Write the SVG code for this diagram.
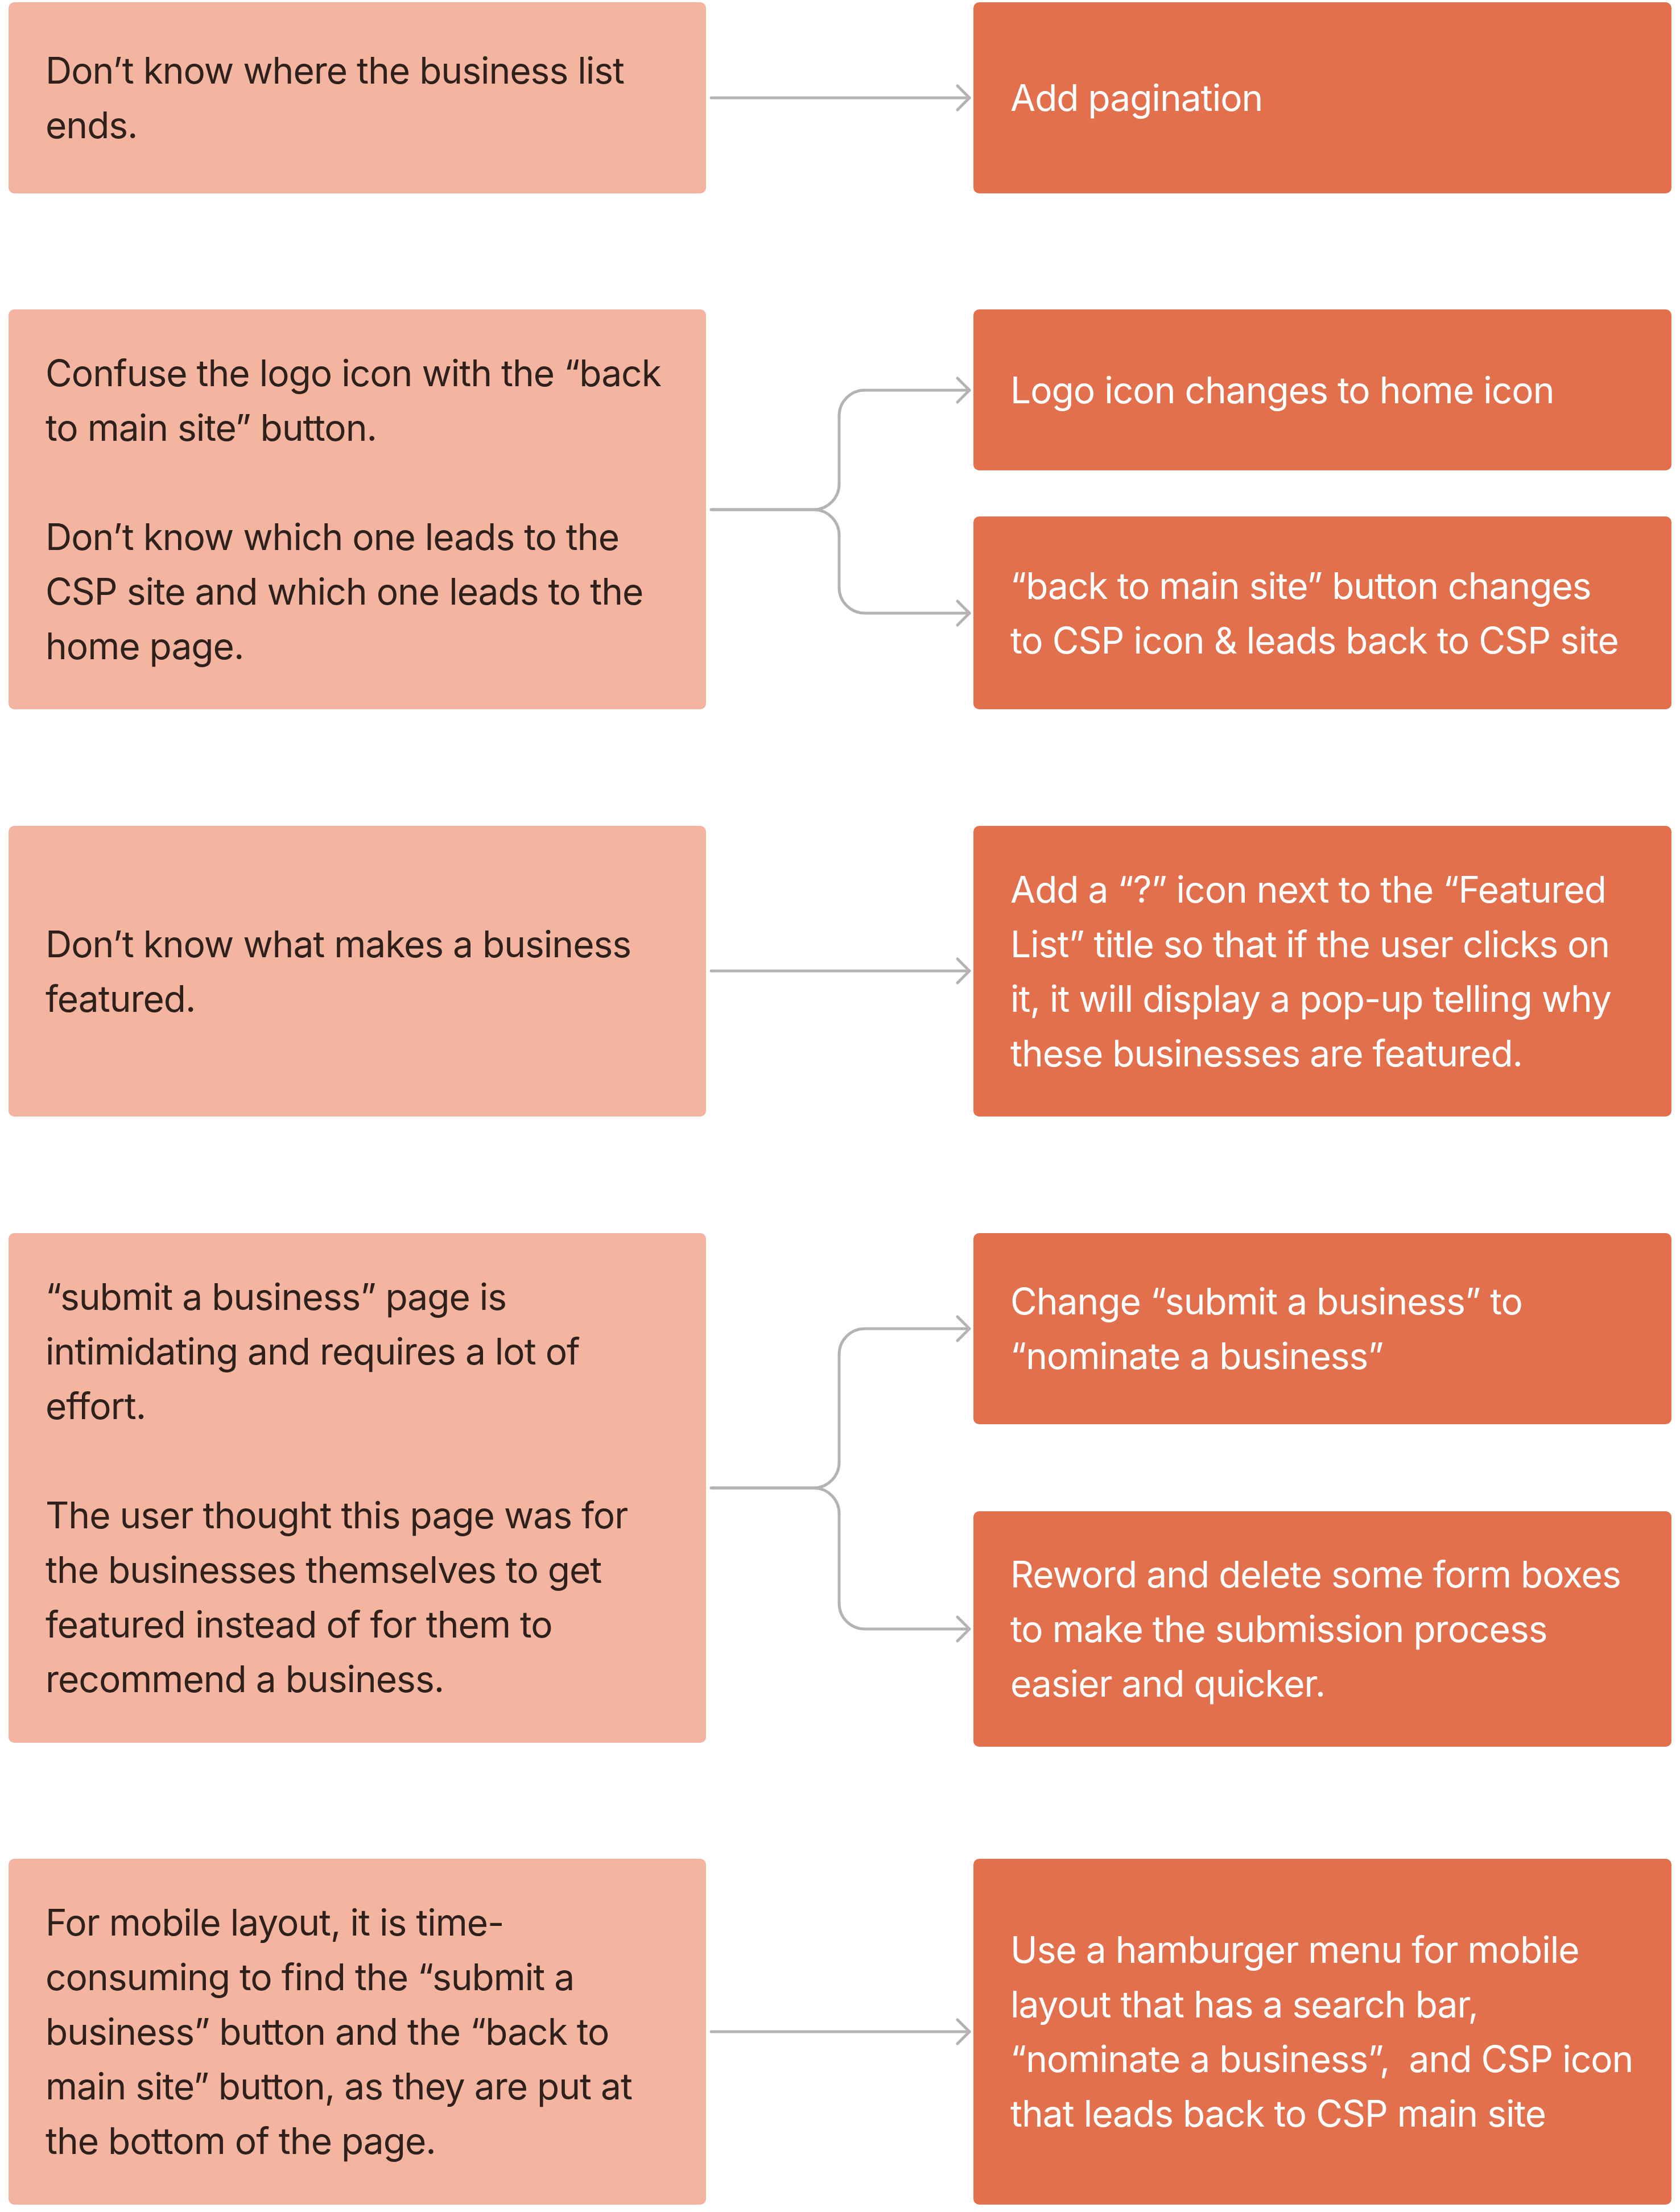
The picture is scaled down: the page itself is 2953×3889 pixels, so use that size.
<svg xmlns="http://www.w3.org/2000/svg" width="2953" height="3889" viewBox="0 0 2953 3889">
  <style>
    .l { fill: #F3B4A0; }
    .r { fill: #E2704C; }
    .tl { font-family: Inter, "Noto Sans", "Liberation Sans", sans-serif; font-size: 64px; letter-spacing: -1px; fill: #2E201B; white-space: pre; }
    .tr { font-family: Inter, "Noto Sans", "Liberation Sans", sans-serif; font-size: 64px; letter-spacing: -1px; fill: #FFFFFF; white-space: pre; }
    .c { fill: none; stroke: #B3B3B3; stroke-width: 5; stroke-linecap: round; stroke-linejoin: round; }
  </style>
  <defs>
    <marker id="chev" viewBox="0 0 30 50" refX="27" refY="25" markerWidth="30" markerHeight="50" markerUnits="userSpaceOnUse" orient="auto" overflow="visible">
      <path d="M6 4 L27 25 L6 46" fill="none" stroke="#B3B3B3" stroke-width="5" stroke-linecap="round" stroke-linejoin="round"/>
    </marker>
  </defs>
  <rect width="2953" height="3889" fill="#FFFFFF"/>

  <g id="connectors">
    <path class="c" d="M1250 172 H1704" marker-end="url(#chev)"/>
    <path class="c" d="M1250 896 H1430 A45 45 0 0 0 1475 851 V731 A45 45 0 0 1 1520 686 H1704" marker-end="url(#chev)"/>
    <path class="c" d="M1250 896 H1430 A45 45 0 0 1 1475 941 V1033 A45 45 0 0 0 1520 1078 H1704" marker-end="url(#chev)"/>
    <path class="c" d="M1250 1707 H1704" marker-end="url(#chev)"/>
    <path class="c" d="M1250 2616 H1430 A45 45 0 0 0 1475 2571 V2381 A45 45 0 0 1 1520 2336 H1704" marker-end="url(#chev)"/>
    <path class="c" d="M1250 2616 H1430 A45 45 0 0 1 1475 2661 V2819 A45 45 0 0 0 1520 2864 H1704" marker-end="url(#chev)"/>
    <path class="c" d="M1250 3572 H1704" marker-end="url(#chev)"/>
  </g>

  <g id="problem1">
    <rect class="l" x="15" y="4" width="1226" height="336" rx="10"/>
    <text class="tl" x="80" y="147">Don’t know where the business list<tspan x="80" dy="96">ends.</tspan></text>
  </g>
  <g id="solution1">
    <rect class="r" x="1711" y="4" width="1227" height="336" rx="10"/>
    <text class="tr" x="1776" y="195">Add pagination</text>
  </g>

  <g id="problem2">
    <rect class="l" x="15" y="544" width="1226" height="703" rx="10"/>
    <text class="tl" x="80" y="679">Confuse the logo icon with the “back<tspan x="80" dy="96">to main site” button.</tspan><tspan x="80" dy="192">Don’t know which one leads to the</tspan><tspan x="80" dy="96">CSP site and which one leads to the</tspan><tspan x="80" dy="96">home page.</tspan></text>
  </g>
  <g id="solution2a">
    <rect class="r" x="1711" y="544" width="1227" height="283" rx="10"/>
    <text class="tr" x="1776" y="709">Logo icon changes to home icon</text>
  </g>
  <g id="solution2b">
    <rect class="r" x="1711" y="908" width="1227" height="339" rx="10"/>
    <text class="tr" x="1776" y="1053">“back to main site” button changes<tspan x="1776" dy="96">to CSP icon &amp; leads back to CSP site</tspan></text>
  </g>

  <g id="problem3">
    <rect class="l" x="15" y="1452" width="1226" height="511" rx="10"/>
    <text class="tl" x="80" y="1683">Don’t know what makes a business<tspan x="80" dy="96">featured.</tspan></text>
  </g>
  <g id="solution3">
    <rect class="r" x="1711" y="1452" width="1227" height="511" rx="10"/>
    <text class="tr" x="1776" y="1587">Add a “?” icon next to the “Featured<tspan x="1776" dy="96">List” title so that if the user clicks on</tspan><tspan x="1776" dy="96">it, it will display a pop-up telling why</tspan><tspan x="1776" dy="96">these businesses are featured.</tspan></text>
  </g>

  <g id="problem4">
    <rect class="l" x="15" y="2168" width="1226" height="896" rx="10"/>
    <text class="tl" x="80" y="2303">“submit a business” page is<tspan x="80" dy="96">intimidating and requires a lot of</tspan><tspan x="80" dy="96">effort.</tspan><tspan x="80" dy="192">The user thought this page was for</tspan><tspan x="80" dy="96">the businesses themselves to get</tspan><tspan x="80" dy="96">featured instead of for them to</tspan><tspan x="80" dy="96">recommend a business.</tspan></text>
  </g>
  <g id="solution4a">
    <rect class="r" x="1711" y="2168" width="1227" height="336" rx="10"/>
    <text class="tr" x="1776" y="2311">Change “submit a business” to<tspan x="1776" dy="96">“nominate a business”</tspan></text>
  </g>
  <g id="solution4b">
    <rect class="r" x="1711" y="2657" width="1227" height="414" rx="10"/>
    <text class="tr" x="1776" y="2791">Reword and delete some form boxes<tspan x="1776" dy="96">to make the submission process</tspan><tspan x="1776" dy="96">easier and quicker.</tspan></text>
  </g>

  <g id="problem5">
    <rect class="l" x="15" y="3268" width="1226" height="608" rx="10"/>
    <text class="tl" x="80" y="3403">For mobile layout, it is time-<tspan x="80" dy="96">consuming to find the “submit a</tspan><tspan x="80" dy="96">business” button and the “back to</tspan><tspan x="80" dy="96">main site” button, as they are put at</tspan><tspan x="80" dy="96">the bottom of the page.</tspan></text>
  </g>
  <g id="solution5">
    <rect class="r" x="1711" y="3268" width="1227" height="608" rx="10"/>
    <text class="tr" x="1776" y="3451">Use a hamburger menu for mobile<tspan x="1776" dy="96">layout that has a search bar,</tspan><tspan x="1776" dy="96">“nominate a business”,  and CSP icon</tspan><tspan x="1776" dy="96">that leads back to CSP main site</tspan></text>
  </g>
</svg>
